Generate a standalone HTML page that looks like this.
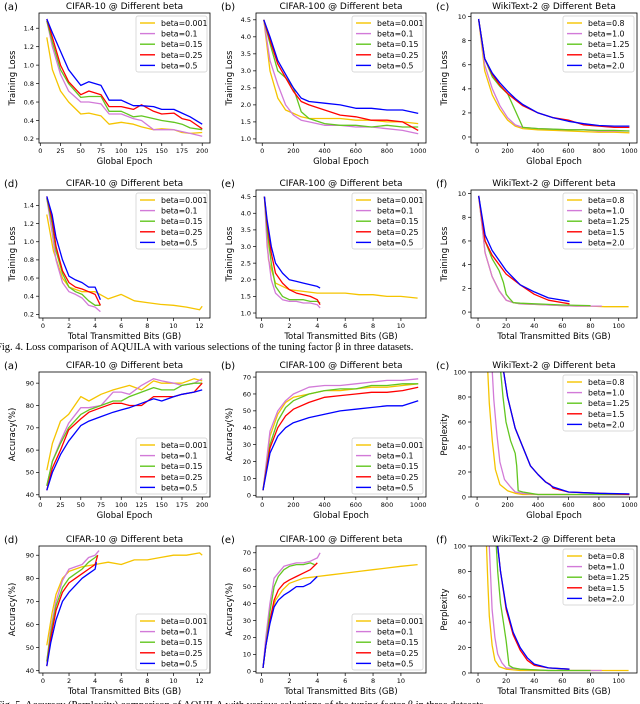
<!DOCTYPE html>
<html><head><meta charset="utf-8">
<style>
body{margin:0;background:#fff;width:640px;height:704px;overflow:hidden}
svg{display:block}
text{font-family:"DejaVu Sans","Liberation Sans",sans-serif}
.cap{font-family:"Liberation Serif",serif;font-size:10.5px}
</style></head><body>
<svg id="fig" width="640" height="704" viewBox="0 0 640 704"></svg>
<script>
// ---------- data ----------
const aX = [8,15,25,35,50,60,75,85,100,115,125,140,150,165,175,185,200];
const aY1 = [1.3,0.95,0.72,0.6,0.47,0.48,0.45,0.36,0.38,0.36,0.33,0.3,0.31,0.3,0.27,0.26,0.27];
const aY2 = [1.48,1.2,0.9,0.72,0.6,0.6,0.58,0.47,0.47,0.42,0.4,0.3,0.3,0.3,0.28,0.26,0.23];
const aY3 = [1.48,1.25,0.95,0.8,0.65,0.66,0.66,0.5,0.5,0.44,0.45,0.42,0.4,0.38,0.36,0.32,0.3];
const aY4 = [1.5,1.3,1.0,0.82,0.68,0.72,0.68,0.55,0.55,0.52,0.57,0.5,0.47,0.48,0.42,0.4,0.31];
const aY5 = [1.5,1.35,1.15,0.95,0.78,0.82,0.78,0.62,0.62,0.56,0.56,0.55,0.52,0.52,0.48,0.44,0.36];

const bX = [10,50,100,150,200,250,300,400,500,600,700,800,900,1000];
const bY1 = [4.5,3.0,2.2,1.85,1.75,1.65,1.6,1.6,1.6,1.55,1.55,1.5,1.5,1.45];
const bY2 = [4.5,3.3,2.6,2.0,1.7,1.55,1.5,1.4,1.4,1.35,1.35,1.3,1.25,1.15];
const bY3 = [4.5,3.8,3.0,2.8,2.5,1.8,1.6,1.45,1.4,1.4,1.35,1.4,1.35,1.35];
const bY4 = [4.5,3.9,3.2,2.8,2.4,2.1,2.0,1.85,1.7,1.65,1.55,1.55,1.5,1.25];
const bY5 = [4.5,4.0,3.3,2.9,2.5,2.2,2.1,2.05,2.0,1.9,1.9,1.85,1.85,1.75];

const cX = [10,50,100,150,200,250,300,400,500,600,700,800,900,1000];
const cY1 = [9.8,5.5,3.5,2.3,1.4,0.9,0.7,0.6,0.55,0.5,0.45,0.4,0.4,0.35];
const cY2 = [9.8,6,4,2.6,1.6,1.0,0.8,0.7,0.65,0.6,0.6,0.5,0.5,0.5];
const cY3 = [9.8,6.5,5,4.2,3.6,2.2,0.8,0.7,0.65,0.6,0.6,0.55,0.55,0.5];
const cY4 = [9.8,6.5,5.2,4.3,3.6,3.1,2.6,2.0,1.6,1.4,1.0,0.9,0.8,0.8];
const cY5 = [9.8,6.5,5.3,4.5,3.8,3.2,2.7,2.0,1.6,1.3,1.1,0.95,0.9,0.9];

const dX1 = [0.3,0.8,1.5,2,3,4,5,6,7,8,9,10,11,12,12.2];
const dY1 = [1.3,0.9,0.6,0.5,0.45,0.45,0.37,0.42,0.35,0.33,0.31,0.3,0.28,0.25,0.29];
const dX = [0.3,0.7,1.0,1.5,2,2.5,3,3.5,4,4.4];
const dY2 = [1.48,1.1,0.8,0.55,0.45,0.42,0.38,0.3,0.28,0.23];
const dY3 = [1.48,1.2,0.9,0.65,0.5,0.45,0.42,0.35,0.3,0.3];
const dY4 = [1.5,1.25,0.95,0.68,0.55,0.5,0.48,0.45,0.42,0.3];
const dY5 = [1.5,1.3,1.05,0.8,0.62,0.58,0.55,0.5,0.5,0.36];

const eX1 = [0.2,0.5,1,2,3,4,5,6,7,8,9,10,11.2];
const eY1 = [4.5,2.6,1.9,1.7,1.65,1.6,1.6,1.6,1.55,1.55,1.5,1.5,1.45];
const eX = [0.2,0.4,0.7,1,1.5,2,2.5,3,3.5,4,4.2];
const eY2 = [4.5,3,2,1.6,1.4,1.35,1.35,1.3,1.3,1.25,1.15];
const eY3 = [4.5,3.5,2.5,1.8,1.5,1.4,1.4,1.4,1.35,1.35,1.3];
const eY4 = [4.5,3.7,2.8,2.2,1.9,1.7,1.6,1.55,1.5,1.4,1.25];
const eY5 = [4.5,3.8,3.0,2.5,2.2,2.0,1.95,1.9,1.85,1.8,1.75];

const fX1 = [0.5,5,10,15,20,25,30,40,50,60,70,80,90,107];
const fY1 = [9.8,5,3,1.8,1.0,0.8,0.7,0.65,0.6,0.55,0.5,0.5,0.45,0.45];
const fX2 = [0.5,5,10,15,20,25,30,40,50,60,70,88];
const fY2 = [9.8,5,3,1.8,1.0,0.8,0.7,0.65,0.6,0.55,0.5,0.5];
const fX3 = [0.5,5,10,15,18,20,22,25,30,40,50,60,80];
const fY3 = [9.8,6,4.5,3.5,2.5,1.5,1.2,0.8,0.75,0.7,0.65,0.6,0.55];
const fX4 = [0.5,5,10,20,30,40,50,60,65];
const fY4 = [9.8,6,4.8,3.2,2.3,1.5,1.0,0.8,0.7];
const fX5 = [0.5,5,10,20,30,40,50,55,60,65];
const fY5 = [9.8,6.5,5.2,3.5,2.3,1.7,1.2,1.1,1.0,0.9];

const gX = [8,15,25,35,50,60,75,90,100,110,125,140,150,165,175,190,200];
const gY1 = [51,63,73,76,84,82,85,87,88,89,87,91,90,90,90,92,91];
const gY2 = [44,55,64,72,79,79,80,86,86,85,89,92,91,90,89,90,92];
const gY3 = [44,55,63,70,76,78,80,82,82,84,86,88,87,87,89,90,90];
const gY4 = [42,52,60,69,74,77,79,81,81,80,80,84,84,84,85,86,90];
const gY5 = [42,50,58,64,71,73,75,77,78,79,81,83,82,84,85,86,87];

const hX = [5,50,100,150,200,300,400,500,600,700,800,900,1000];
const hY1 = [3,35,48,55,58,60,62,62,63,64,64,65,66];
const hY2 = [3,38,50,56,60,64,65,65,66,67,68,68,69];
const hY3 = [3,30,44,52,56,60,62,63,63,65,65,66,66];
const hY4 = [3,28,40,47,51,55,58,59,60,61,61,62,64];
const hY5 = [3,25,35,40,43,46,48,50,51,52,53,53,56];

const iX1 = [70,80,100,120,150,200,250,300,400,600,800,1000];
const iY1 = [100,75,45,22,10,5,3,2,2,2,2,2];
const iX2 = [100,110,130,150,180,220,250,300,400,600,800,1000];
const iY2 = [100,78,50,28,14,8,4,3,2,2,2,2];
const iX3 = [155,170,190,220,250,260,270,300,350,400,600,1000];
const iY3 = [100,80,60,45,35,25,5,4,3,2,2,2];
const iX4 = [175,200,250,300,350,400,450,480,500,600,800,1000];
const iY4 = [100,80,55,40,25,18,12,10,7,4,3,2];
const iX5 = [175,200,250,300,350,400,450,500,600,800,1000];
const iY5 = [100,80,55,40,25,18,12,8,4,3,2.5];

const jX1 = [0.3,0.7,1,1.5,2,3,4,5,6,7,8,9,10,11,12,12.2];
const jY1 = [51,65,73,80,83,85,86,87,86,88,88,89,90,90,91,90];
const jX2 = [0.3,0.6,1,1.5,2,2.5,3,3.5,4,4.3];
const jY2 = [44,58,70,79,84,85,86,89,90,92];
const jX3 = [0.3,0.6,1,1.5,2,2.5,3,3.5,4,4.2];
const jY3 = [44,56,68,76,80,82,84,87,89,90];
const jY4 = [42,54,66,74,78,80,82,84,86,90];
const jX5 = [0.3,0.6,1,1.5,2,2.5,3,3.5,4,4.1];
const jY5 = [42,52,62,70,74,77,80,82,84,87];

const kX1 = [0.1,0.3,0.6,1,1.5,2,3,4,5,6,7,8,9,10,11.2];
const kY1 = [2,15,30,42,48,52,55,56,57,58,59,60,61,62,63];
const kX2 = [0.1,0.3,0.6,0.9,1.2,1.6,2,2.5,3,3.5,4,4.2];
const kY2 = [2,20,40,55,58,62,63,64,64,65,67,70];
const kX3 = [0.1,0.3,0.6,0.9,1.2,1.6,2,2.5,3,3.5,3.8];
const kY3 = [2,15,35,50,56,60,62,63,63,64,63];
const kX4 = [0.1,0.3,0.6,0.9,1.2,1.6,2,2.5,3,3.5,4];
const kY4 = [2,15,30,42,48,52,54,56,58,60,64];
const kY5 = [2,15,28,38,42,45,47,50,50,52,56];

const lX1 = [6,7,8,10,12,15,20,30,50,80,107];
const lY1 = [100,70,45,22,10,5,3,2,2,2,2];
const lX2 = [8,9,10,12,14,17,20,30,50,88];
const lY2 = [100,75,50,28,15,8,4,3,2,2];
const lX3 = [13,14,16,18,20,22,25,30,50,80];
const lY3 = [100,80,55,40,25,6,4,3,2,2];
const lX4 = [14,16,20,25,30,35,40,50,65];
const lY4 = [100,80,50,30,18,10,6,4,3];
const lY5 = [100,80,52,32,20,12,7,4,3];

const cifarLabels = ["beta=0.001","beta=0.1","beta=0.15","beta=0.25","beta=0.5"];
const wikiLabels = ["beta=0.8","beta=1.0","beta=1.25","beta=1.5","beta=2.0"];
const epochTicks200 = [0,25,50,75,100,125,150,175,200];
const epochTicks1000 = [0,200,400,600,800,1000];
const gb12Ticks = [0,2,4,6,8,10,12];
const gb10Ticks = [0,2,4,6,8,10];
const gb100Ticks = [0,20,40,60,80,100];
const loss10Ticks = [0.2,0.4,0.6,0.8,1.0,1.2,1.4];
const loss100Ticks = [1.0,1.5,2.0,2.5,3.0,3.5,4.0,4.5];
const wikiLossTicks = [0,2,4,6,8,10];
const acc10Ticks = [40,50,60,70,80,90];
const acc100Ticks = [0,10,20,30,40,50,60,70];
const pplTicks = [0,20,40,60,80,100];

const COLORS = ["#f5c400","#d27ad8","#62c620","#ff0000","#0000ff"];
const COLS = [[39,210],[256,426],[471,637]];
const ROWS = [[13,143],[190,318],[372,497],[546,673]];

const panels = [
 {id:"a1",letter:"(a)",r:0,c:0,title:"CIFAR-10 @ Different beta",yl:"Training Loss",xl:"Global Epoch",xd:[-1.6,209.6],yd:[0.156,1.565],xt:epochTicks200,yt:loss10Ticks,yf:1,leg:"ur",labels:cifarLabels,
  s:[[aX,aY1],[aX,aY2],[aX,aY3],[aX,aY4],[aX,aY5]]},
 {id:"b1",letter:"(b)",r:0,c:1,title:"CIFAR-100 @ Different beta",yl:"Training Loss",xl:"Global Epoch",xd:[-40,1050],yd:[0.88,4.7],xt:epochTicks1000,yt:loss100Ticks,yf:1,leg:"ur",labels:cifarLabels,
  s:[[bX,bY1],[bX,bY2],[bX,bY3],[bX,bY4],[bX,bY5]]},
 {id:"c1",letter:"(c)",r:0,c:2,title:"WikiText-2 @ Different Beta",yl:"Training Loss",xl:"Global Epoch",xd:[-40,1050],yd:[-0.5,10.3],xt:epochTicks1000,yt:wikiLossTicks,yf:0,leg:"ur",labels:wikiLabels,
  s:[[cX,cY1],[cX,cY2],[cX,cY3],[cX,cY4],[cX,cY5]]},
 {id:"d2",letter:"(d)",r:1,c:0,title:"CIFAR-10 @ Different beta",yl:"Training Loss",xl:"Total Transmitted Bits (GB)",xd:[-0.3,12.8],yd:[0.16,1.57],xt:gb12Ticks,yt:loss10Ticks,yf:1,leg:"ur",labels:cifarLabels,
  s:[[dX1,dY1],[dX,dY2],[dX,dY3],[dX,dY4],[dX,dY5]]},
 {id:"e2",letter:"(e)",r:1,c:1,title:"CIFAR-100 @ Different beta",yl:"Training Loss",xl:"Total Transmitted Bits (GB)",xd:[-0.4,11.8],yd:[0.85,4.7],xt:gb10Ticks,yt:loss100Ticks,yf:1,leg:"ur",labels:cifarLabels,
  s:[[eX1,eY1],[eX,eY2],[eX,eY3],[eX,eY4],[eX,eY5]]},
 {id:"f2",letter:"(f)",r:1,c:2,title:"WikiText-2 @ Different beta",yl:"Training Loss",xl:"Total Transmitted Bits (GB)",xd:[-5,113],yd:[-0.5,10.3],xt:gb100Ticks,yt:wikiLossTicks,yf:0,leg:"ur",labels:wikiLabels,
  s:[[fX1,fY1],[fX2,fY2],[fX3,fY3],[fX4,fY4],[fX5,fY5]]},
 {id:"a3",letter:"(a)",r:2,c:0,title:"CIFAR-10 @ Different beta",yl:"Accuracy(%)",xl:"Global Epoch",xd:[-1.6,209.6],yd:[39,95],xt:epochTicks200,yt:acc10Ticks,yf:0,leg:"lr",labels:cifarLabels,
  s:[[gX,gY1],[gX,gY2],[gX,gY3],[gX,gY4],[gX,gY5]]},
 {id:"b3",letter:"(b)",r:2,c:1,title:"CIFAR-100 @ Different beta",yl:"Accuracy(%)",xl:"Global Epoch",xd:[-40,1050],yd:[-1,73],xt:epochTicks1000,yt:acc100Ticks,yf:0,leg:"lr",labels:cifarLabels,
  s:[[hX,hY1],[hX,hY2],[hX,hY3],[hX,hY4],[hX,hY5]]},
 {id:"c3",letter:"(c)",r:2,c:2,title:"WikiText-2 @ Different beta",yl:"Perplexity",xl:"Global Epoch",xd:[-40,1050],yd:[0,100],xt:epochTicks1000,yt:pplTicks,yf:0,leg:"ur",labels:wikiLabels,
  s:[[iX1,iY1],[iX2,iY2],[iX3,iY3],[iX4,iY4],[iX5,iY5]]},
 {id:"d4",letter:"(d)",r:3,c:0,title:"CIFAR-10 @ Different beta",yl:"Accuracy(%)",xl:"Total Transmitted Bits (GB)",xd:[-0.3,12.8],yd:[39,94],xt:gb12Ticks,yt:acc10Ticks,yf:0,leg:"lr",labels:cifarLabels,
  s:[[jX1,jY1],[jX2,jY2],[jX3,jY3],[jX3,jY4],[jX5,jY5]]},
 {id:"e4",letter:"(e)",r:3,c:1,title:"CIFAR-100 @ Different beta",yl:"Accuracy(%)",xl:"Total Transmitted Bits (GB)",xd:[-0.4,11.8],yd:[-1,74],xt:gb10Ticks,yt:acc100Ticks,yf:0,leg:"lr",labels:cifarLabels,
  s:[[kX1,kY1],[kX2,kY2],[kX3,kY3],[kX4,kY4],[kX4,kY5]]},
 {id:"f4",letter:"(f)",r:3,c:2,title:"WikiText-2 @ Different beta",yl:"Perplexity",xl:"Total Transmitted Bits (GB)",xd:[-5,113],yd:[0,100],xt:gb100Ticks,yt:pplTicks,yf:0,leg:"ur",labels:wikiLabels,
  s:[[lX1,lY1],[lX2,lY2],[lX3,lY3],[lX4,lY4],[lX4,lY5]]}
];

// ---------- drawing ----------
const NS = "http://www.w3.org/2000/svg";
const svg = document.getElementById("fig");
function mk(tag, attrs, parent, txt){
  const e = document.createElementNS(NS, tag);
  for (const k in attrs) e.setAttribute(k, attrs[k]);
  if (txt !== undefined) e.textContent = txt;
  (parent || svg).appendChild(e);
  return e;
}
const defs = mk("defs", {});

panels.forEach(p => {
  const [x0,x1] = COLS[p.c], [y0,y1] = ROWS[p.r];
  const sx = v => x0 + (v - p.xd[0]) / (p.xd[1] - p.xd[0]) * (x1 - x0);
  const sy = v => y1 - (v - p.yd[0]) / (p.yd[1] - p.yd[0]) * (y1 - y0);
  const g = mk("g", {});
  
  
  const cp = mk("clipPath", {id:"cp" + p.id}, defs);
  mk("rect", {x:x0, y:y0, width:x1-x0, height:y1-y0}, cp);

  const t = mk("text", {x:(x0+x1)/2, y:y0-4, "text-anchor":"middle", "font-size":"9"}, g, p.title);
  
  
  const lt = mk("text", {x:x0-35, y:y0-3, "font-size":"10", "font-family":"Liberation Serif, serif"}, g, p.letter);
  
  

  // series
  const sg = mk("g", {"clip-path":"url(#cp" + p.id + ")"}, g);
  p.s.forEach((s, i) => {
    const pts = s[0].map((xv, k) => sx(xv).toFixed(1) + "," + sy(s[1][k]).toFixed(1)).join(" ");
    const pl = mk("polyline", {points:pts, fill:"none", stroke:COLORS[i], "stroke-width":"1.3", "stroke-linejoin":"round"}, sg);
    
    
  });

  // frame
  const fr = mk("rect", {x:x0, y:y0, width:x1-x0, height:y1-y0, fill:"none", stroke:"#000", "stroke-width":"0.8"}, g);
  
  

  // x ticks
  p.xt.forEach(v => {
    const x = sx(v);
    mk("line", {x1:x, x2:x, y1:y1, y2:y1+3, stroke:"#000", "stroke-width":"0.7"}, g);
    const tl = mk("text", {x:x, y:y1+10, "text-anchor":"middle", "font-size":"6.5"}, g, String(v));
    
    
  });
  p.yt.forEach(v => {
    const y = sy(v);
    mk("line", {x1:x0-3, x2:x0, y1:y, y2:y, stroke:"#000", "stroke-width":"0.7"}, g);
    const tl = mk("text", {x:x0-5, y:y+2.3, "text-anchor":"end", "font-size":"6.5"}, g, v.toFixed(p.yf));
    
    
  });
  const xl = mk("text", {x:(x0+x1)/2, y:y1+21, "text-anchor":"middle", "font-size":"8.5"}, g, p.xl);
  
  
  const yc = (y0+y1)/2;
  const yl = mk("text", {x:x0-24, y:yc, "text-anchor":"middle", "font-size":"8.5", transform:"rotate(-90 " + (x0-24) + " " + yc + ")"}, g, p.yl);
  
  

  // legend
  const lw = 71, lh = 56;
  const lx = x1 - lw - 3;
  const ly = p.leg === "ur" ? y0 + 3 : y1 - lh - 3;
  const lg = mk("g", {}, g);
  
  
  mk("rect", {x:lx, y:ly, width:lw, height:lh, rx:2, fill:"#fff", stroke:"#ccc", "stroke-width":"0.7"}, lg);
  p.labels.forEach((lab, i) => {
    const yy = ly + 7 + i * 10.6;
    const e = mk("g", {}, lg);
    
    
    mk("line", {x1:lx+4, x2:lx+19, y1:yy, y2:yy, stroke:COLORS[i], "stroke-width":"1.4"}, e);
    mk("text", {x:lx+25, y:yy+3, "font-size":"7.8"}, e, lab);
  });
});

const c1 = mk("text", {x:-4, y:350, class:"cap"}, svg, "Fig. 4.  Loss comparison of AQUILA with various selections of the tuning factor \u03B2 in three datasets.");


const c2 = mk("text", {x:-4, y:708, class:"cap"}, svg, "Fig. 5.  Accuracy (Perplexity) comparison of AQUILA with various selections of the tuning factor \u03B2 in three datasets.");


</script>
</body></html>
